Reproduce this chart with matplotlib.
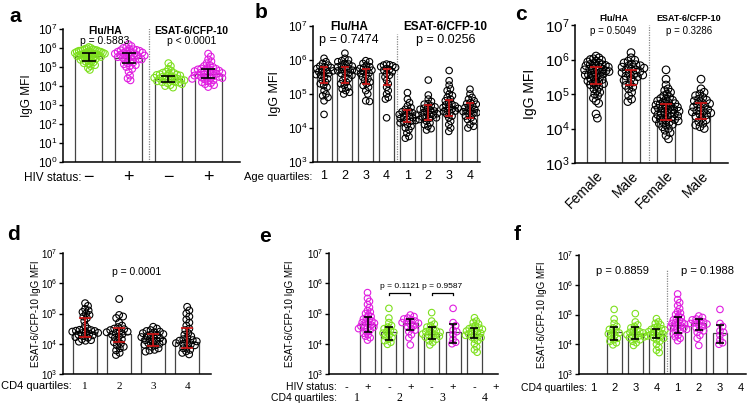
import numpy as np
import matplotlib
matplotlib.use("Agg")
import matplotlib.pyplot as plt
from matplotlib.ticker import NullLocator
from matplotlib.transforms import blended_transform_factory

plt.rcParams['font.family'] = ['Liberation Sans', 'DejaVu Sans']
plt.rcParams['mathtext.fontset'] = 'custom'
plt.rcParams['mathtext.rm'] = 'Liberation Sans'
plt.rcParams['mathtext.it'] = 'Liberation Sans'

W, H = 751, 405
GREEN = '#7ee01e'
MAGENTA = '#e01ee0'
RED = '#d01414'
BAREDGE = '#444444'

# ---------------- data (log10 of MFI) ----------------
# panel a: HIV status
a_labels = ['−', '+', '−', '+']
a_flu_neg = [6.05, 6.0, 5.98, 5.95, 5.93, 5.9, 5.9, 5.88, 5.86, 5.85, 5.83, 5.82, 5.8, 5.8, 5.78, 5.76,
             5.75, 5.74, 5.72, 5.7, 5.7, 5.68, 5.66, 5.65, 5.63, 5.62, 5.6, 5.6, 5.58, 5.56, 5.55, 5.53,
             5.5, 5.48, 5.45, 5.42, 5.4, 5.38, 5.35, 5.3, 5.28, 5.25, 5.2, 5.15, 5.1, 5.05, 4.95, 4.85]
a_flu_pos = [6.2, 6.1, 6.05, 6.0, 5.95, 5.93, 5.9, 5.88, 5.85, 5.83, 5.8, 5.78, 5.76, 5.74, 5.72, 5.7,
             5.68, 5.65, 5.62, 5.6, 5.58, 5.55, 5.52, 5.5, 5.48, 5.45, 5.42, 5.4, 5.35, 5.3, 5.25, 5.2,
             5.15, 5.1, 5.05, 5.0, 4.9, 4.75, 4.55, 4.4, 4.3]
a_esat_neg = [5.2, 5.05, 4.9, 4.8, 4.75, 4.7, 4.68, 4.65, 4.62, 4.6, 4.58, 4.55, 4.52, 4.5, 4.48, 4.45,
              4.43, 4.4, 4.38, 4.36, 4.34, 4.32, 4.3, 4.28, 4.25, 4.22, 4.2, 4.18, 4.15, 4.1, 4.05, 4.0, 3.92]
a_esat_pos = [5.7, 5.55, 5.4, 5.3, 5.2, 5.1, 5.05, 5.0, 4.95, 4.92, 4.9, 4.87, 4.85, 4.82, 4.8, 4.78,
              4.75, 4.72, 4.7, 4.68, 4.65, 4.62, 4.6, 4.58, 4.55, 4.52, 4.5, 4.48, 4.45, 4.42, 4.4, 4.38,
              4.35, 4.3, 4.25, 4.2, 4.15, 4.1, 4.05, 3.95]
a_med = [5.59, 5.49, 4.37, 4.63]
a_lo = [5.3, 5.2, 4.2, 4.4]
a_hi = [5.75, 5.75, 4.54, 4.88]

# panel b: age quartiles
b_labels = ['1', '2', '3', '4', '1', '2', '3', '4']
b_flu_1 = [6.05, 5.95, 5.9, 5.85, 5.82, 5.8, 5.78, 5.75, 5.72, 5.7, 5.68, 5.65, 5.62, 5.6, 5.57, 5.55,
           5.5, 5.45, 5.4, 5.35, 5.3, 5.25, 5.2, 5.1, 5.0, 4.95, 4.9, 4.8, 4.4]
b_flu_2 = [6.2, 6.05, 6.0, 5.98, 5.95, 5.9, 5.88, 5.85, 5.82, 5.8, 5.78, 5.75, 5.72, 5.7, 5.68, 5.65,
           5.62, 5.6, 5.55, 5.5, 5.45, 5.4, 5.35, 5.3, 5.25, 5.2, 5.15, 5.1, 5.05, 5.0]
b_flu_3 = [5.98, 5.95, 5.9, 5.85, 5.8, 5.77, 5.75, 5.72, 5.7, 5.68, 5.65, 5.62, 5.6, 5.55, 5.5, 5.45,
           5.4, 5.35, 5.3, 5.25, 5.2, 5.1, 5.0, 4.8, 4.78]
b_flu_4 = [5.88, 5.86, 5.85, 5.83, 5.8, 5.78, 5.75, 5.72, 5.7, 5.65, 5.6, 5.55, 5.5, 5.4, 5.3, 5.2,
           5.1, 5.0, 4.9, 4.85, 4.3]
b_esat_1 = [5.04, 4.85, 4.75, 4.65, 4.6, 4.55, 4.5, 4.48, 4.45, 4.42, 4.4, 4.38, 4.35, 4.32, 4.3, 4.28,
            4.25, 4.22, 4.2, 4.18, 4.15, 4.1, 4.05, 4.0, 3.95, 3.85, 3.75, 3.7]
b_esat_2 = [5.41, 4.97, 4.85, 4.78, 4.72, 4.7, 4.65, 4.62, 4.6, 4.58, 4.55, 4.52, 4.5, 4.48, 4.45, 4.42,
            4.4, 4.38, 4.35, 4.32, 4.3, 4.28, 4.25, 4.2, 4.15, 4.1, 4.05, 3.98, 3.94]
b_esat_3 = [5.69, 5.39, 5.26, 5.15, 5.1, 5.0, 4.95, 4.9, 4.85, 4.8, 4.75, 4.7, 4.68, 4.65, 4.62, 4.6,
            4.58, 4.55, 4.52, 4.5, 4.48, 4.45, 4.4, 4.35, 4.3, 4.2, 4.1, 4.0, 3.9]
b_esat_4 = [5.14, 5.0, 4.9, 4.85, 4.8, 4.75, 4.72, 4.7, 4.65, 4.62, 4.6, 4.55, 4.52, 4.5, 4.48, 4.45,
            4.42, 4.4, 4.35, 4.3, 4.25, 4.2, 4.1, 4.05, 4.0]
b_med = [5.62, 5.66, 5.62, 5.62, 4.43, 4.51, 4.63, 4.53]
b_lo = [5.31, 5.33, 5.28, 5.26, 4.19, 4.24, 4.35, 4.29]
b_hi = [5.8, 5.8, 5.73, 5.73, 4.53, 4.68, 4.82, 4.73]

# panel c: sex
c_labels = ['Female', 'Male', 'Female', 'Male']
c_flu_f = [6.1, 6.05, 6.02, 6.0, 5.98, 5.95, 5.93, 5.9, 5.88, 5.86, 5.85, 5.83, 5.82, 5.8, 5.78, 5.77,
           5.75, 5.73, 5.72, 5.7, 5.68, 5.67, 5.65, 5.63, 5.62, 5.6, 5.58, 5.56, 5.55, 5.53, 5.5, 5.48,
           5.45, 5.42, 5.4, 5.38, 5.35, 5.32, 5.3, 5.27, 5.25, 5.2, 5.15, 5.1, 5.05, 5.0, 4.95, 4.88,
           4.8, 4.73, 4.42, 4.3]
c_flu_m = [6.2, 6.05, 5.98, 5.95, 5.9, 5.87, 5.85, 5.82, 5.8, 5.78, 5.75, 5.72, 5.7, 5.68, 5.65, 5.62,
           5.6, 5.57, 5.55, 5.52, 5.5, 5.45, 5.4, 5.35, 5.3, 5.25, 5.2, 5.15, 5.05, 4.95, 4.85, 4.78]
c_esat_f = [5.7, 5.43, 5.26, 5.15, 5.1, 5.05, 5.0, 4.95, 4.9, 4.87, 4.85, 4.82, 4.8, 4.77, 4.75, 4.72,
            4.7, 4.68, 4.66, 4.64, 4.62, 4.6, 4.58, 4.56, 4.55, 4.53, 4.5, 4.48, 4.46, 4.45, 4.43, 4.4,
            4.38, 4.36, 4.35, 4.33, 4.3, 4.28, 4.26, 4.25, 4.22, 4.2, 4.18, 4.15, 4.12, 4.1, 4.05, 4.0,
            3.95, 3.88, 3.8, 3.7]
c_esat_m = [5.43, 5.15, 5.05, 5.0, 4.95, 4.9, 4.85, 4.82, 4.8, 4.75, 4.72, 4.7, 4.65, 4.62, 4.6, 4.55,
            4.52, 4.5, 4.48, 4.45, 4.42, 4.4, 4.35, 4.3, 4.25, 4.2, 4.15, 4.1, 4.05, 4.0]
c_med = [5.6, 5.52, 4.63, 4.45]
c_lo = [5.29, 5.26, 4.25, 4.27]
c_hi = [5.77, 5.7, 4.7, 4.73]

# panel d: CD4 quartiles
d_labels = ['1', '2', '3', '4']
d_q1 = [5.34, 5.25, 5.15, 5.1, 5.05, 5.0, 4.95, 4.9, 4.85, 4.75, 4.6, 4.5, 4.48, 4.46, 4.45, 4.43,
        4.42, 4.4, 4.38, 4.36, 4.35, 4.33, 4.3, 4.28, 4.25, 4.22, 4.2, 4.15, 4.12, 4.1, 4.07]
d_q2 = [5.48, 4.95, 4.9, 4.85, 4.7, 4.6, 4.55, 4.5, 4.48, 4.45, 4.42, 4.4, 4.38, 4.35, 4.32, 4.3,
        4.25, 4.2, 4.15, 4.1, 4.05, 4.0, 3.95, 3.9, 3.85, 3.78, 3.7, 3.63]
d_q3 = [4.56, 4.5, 4.45, 4.42, 4.4, 4.38, 4.35, 4.32, 4.3, 4.28, 4.25, 4.22, 4.2, 4.18, 4.15, 4.12,
        4.1, 4.08, 4.05, 4.02, 4.0, 3.97, 3.95, 3.9, 3.85, 3.8, 3.78, 3.74]
d_q4 = [5.22, 5.1, 5.0, 4.9, 4.8, 4.7, 4.6, 4.5, 4.45, 4.35, 4.3, 4.25, 4.2, 4.15, 4.12, 4.1,
        4.08, 4.05, 4.02, 4.0, 3.98, 3.95, 3.9, 3.85, 3.8, 3.75, 3.7, 3.65]
d_med = [4.4, 4.31, 4.18, 4.07]
d_lo = [4.23, 4.07, 3.94, 3.85]
d_hi = [4.86, 4.51, 4.31, 4.51]

# panels e/f: HIV status within CD4 quartiles
pos_q1 = [5.69, 5.5, 5.4, 5.3, 5.2, 5.1, 5.05, 5.0, 4.95, 4.9, 4.85, 4.82, 4.8, 4.75, 4.72, 4.7,
          4.68, 4.65, 4.62, 4.6, 4.58, 4.55, 4.52, 4.5, 4.45, 4.4, 4.35, 4.3, 4.25, 4.2, 4.12]
neg_q2 = [5.17, 4.85, 4.7, 4.6, 4.55, 4.5, 4.45, 4.4, 4.38, 4.35, 4.3, 4.25, 4.2, 4.15, 4.1, 4.05, 3.98]
pos_q2 = [4.95, 4.9, 4.85, 4.82, 4.8, 4.75, 4.72, 4.7, 4.68, 4.65, 4.6, 4.55, 4.5, 4.45, 4.4, 4.3,
          4.2, 3.96]
neg_q3 = [5.03, 4.75, 4.65, 4.6, 4.55, 4.5, 4.45, 4.42, 4.4, 4.38, 4.35, 4.32, 4.3, 4.28, 4.25, 4.22,
          4.2, 4.15, 4.1, 4.05, 3.96]
pos_q3 = [5.17, 4.7, 4.6, 4.45, 4.4, 4.3, 4.15, 4.05, 4.0]
neg_q4 = [4.86, 4.75, 4.7, 4.65, 4.6, 4.55, 4.52, 4.5, 4.48, 4.45, 4.42, 4.4, 4.38, 4.35, 4.32, 4.3,
          4.28, 4.25, 4.22, 4.2, 4.15, 4.1, 4.0, 3.9, 3.8, 3.72]
e_hiv_labels = ['-', '+', '-', '+', '-', '+', '-', '+']
e_cd4_labels = ['1', '2', '3', '4']
e_med = [None, 4.64, 4.4, 4.68, 4.31, 4.38, 4.31, None]
e_lo = [None, 4.4, 4.12, 4.45, 4.16, 4.01, 4.2, None]
e_hi = [None, 4.89, 4.56, 4.82, 4.56, 4.64, 4.51, None]
e_pvals = ['p = 0.1121', 'p = 0.9587']

f_labels = ['1', '2', '3', '4', '1', '2', '3', '4']
f_med = [None, 4.4, 4.33, 4.33, 4.65, 4.7, 4.37, None]
f_lo = [None, 4.14, 4.18, 4.22, 4.39, 4.48, 4.03, None]
f_hi = [None, 4.57, 4.57, 4.5, 4.9, 4.85, 4.65, None]


# ---------------- helpers ----------------
def box(x0, x1, y0, y1):
    return [x0 / W, 1 - y1 / H, (x1 - x0) / W, (y1 - y0) / H]


def setup(ax, xlim, ymin, ymax, fs):
    ax.set_yscale('log')
    ax.set_xlim(*xlim)
    ax.set_ylim(10.0 ** ymin, 10.0 ** ymax)
    ks = list(range(ymin, ymax + 1))
    ax.set_yticks([10.0 ** k for k in ks])
    ax.set_yticklabels([f'$10^{{{k}}}$' for k in ks], fontsize=fs)
    ax.yaxis.set_minor_locator(NullLocator())
    ax.set_xticks([])
    for s in ['top', 'right']:
        ax.spines[s].set_visible(False)
    for s in ['left', 'bottom']:
        ax.spines[s].set_linewidth(1.1)
    ax.tick_params(axis='y', length=3, width=1, pad=1)


def swarm(ax, xc, logs, diam, half):
    # deterministic beeswarm in pixel space, squeezed to the allowed half-width
    vals = 10.0 ** np.asarray(logs)
    pts = ax.transData.transform(np.column_stack([np.full(len(vals), xc), vals]))
    ys = pts[:, 1]
    order = np.argsort(-ys)
    placed = []
    offs = np.zeros(len(vals))
    for i in order:
        y = ys[i]
        near = [(px, py) for px, py in placed if abs(py - y) < diam]
        cands = [0.0]
        for px, py in near:
            dx = np.sqrt(diam ** 2 - (py - y) ** 2)
            cands += [px + dx, px - dx]
        cands.sort(key=abs)
        best = cands[-1]
        for c in cands:
            if all((c - px) ** 2 + (y - py) ** 2 >= diam ** 2 - 1e-6 for px, py in near):
                best = c
                break
        offs[i] = best
        placed.append((best, y))
    wmax = np.abs(offs).max() if len(offs) else 0
    if wmax > half:
        offs = offs * half / wmax
    ppu = ax.transData.transform([(1, 1)])[0][0] - ax.transData.transform([(0, 1)])[0][0]
    return xc + offs / ppu, vals


def draw_groups(ax, groups, colors, med, lo, hi, width, ybot, ecolor, cap, msize, diam, half):
    for i, g in enumerate(groups):
        if g is None:
            continue
        ax.bar(i, 10.0 ** med[i] - 10.0 ** ybot, bottom=10.0 ** ybot, width=width,
               facecolor='white', edgecolor=BAREDGE, linewidth=0.9, zorder=1)
        xs, vals = swarm(ax, i, g, diam, half)
        ax.scatter(xs, vals, s=msize, facecolors='none', edgecolors=colors[i],
                   linewidths=0.8, zorder=2)
        m = 10.0 ** med[i]
        ax.errorbar(i, m, yerr=[[m - 10.0 ** lo[i]], [10.0 ** hi[i] - m]], fmt='none',
                    ecolor=ecolor, elinewidth=1.2, capsize=cap, capthick=1.2, zorder=3)


def cat_text(ax, labels, y, fs, **kw):
    tr = blended_transform_factory(ax.transData, ax.transAxes)
    for i, lab in enumerate(labels):
        ax.text(i, y, lab, transform=tr, ha='center', va='center', fontsize=fs, **kw)


def divider(ax, x, ymin=0, ymax=1):
    ax.axvline(x, ymin=ymin, ymax=ymax, color='#888888', lw=0.9, ls=(0, (1, 1)), zorder=0)


fig = plt.figure(figsize=(W / 100, H / 100), dpi=100)

# ---------------- panel a ----------------
ax = fig.add_axes(box(63, 240, 29, 162))
setup(ax, (-0.65, 3.8), 0, 7, 8.5)
draw_groups(ax, [a_flu_neg, a_flu_pos, a_esat_neg, a_esat_pos],
            [GREEN, MAGENTA, GREEN, MAGENTA], a_med, a_lo, a_hi,
            0.68, 0, 'black', 5, 24, 4.2, 16)
divider(ax, 1.5, 0, 1.05)
ax.set_ylabel('IgG MFI', fontsize=8.5, labelpad=1)
ax.yaxis.set_label_coords(-0.17, 0.5)
tr = blended_transform_factory(ax.transData, ax.transAxes)
ax.text(0.4, 0.985, 'Flu/HA', transform=tr, ha='center', va='center', fontsize=7.5, fontweight='bold')
ax.text(0.4, 0.91, 'p = 0.5883', transform=tr, ha='center', va='center', fontsize=7.5)
ax.text(2.58, 0.985, 'ESAT-6/CFP-10', transform=tr, ha='center', va='center', fontsize=7.5, fontweight='bold')
ax.text(2.58, 0.91, 'p < 0.0001', transform=tr, ha='center', va='center', fontsize=7.5)
cat_text(ax, a_labels, -0.115, 13)
fig.text(82 / W, 1 - 178 / H, 'HIV status:', ha='right', va='center', fontsize=8.5)

# ---------------- panel b ----------------
ax = fig.add_axes(box(313, 480, 26, 162))
setup(ax, (-0.53, 7.48), 3, 7, 8.5)
draw_groups(ax, [b_flu_1, b_flu_2, b_flu_3, b_flu_4, b_esat_1, b_esat_2, b_esat_3, b_esat_4],
            ['black'] * 8, b_med, b_lo, b_hi, 0.72, 3, RED, 3, 22, 4.0, 9)
divider(ax, 3.5, 0, 0.94)
ax.set_ylabel('IgG MFI', fontsize=9)
ax.yaxis.set_label_coords(-0.19, 0.5)
tr = blended_transform_factory(ax.transData, ax.transAxes)
ax.text(1.2, 0.99, 'Flu/HA', transform=tr, ha='center', va='center', fontsize=8.5, fontweight='bold')
ax.text(1.2, 0.9, 'p = 0.7474', transform=tr, ha='center', va='center', fontsize=9)
ax.text(5.8, 0.99, 'ESAT-6/CFP-10', transform=tr, ha='center', va='center', fontsize=8.5, fontweight='bold')
ax.text(5.85, 0.9, 'p = 0.0256', transform=tr, ha='center', va='center', fontsize=9)
cat_text(ax, b_labels, -0.105, 9)
fig.text(312 / W, 1 - 177 / H, 'Age quartiles:', ha='right', va='center', fontsize=8)

# ---------------- panel c ----------------
ax = fig.add_axes(box(575, 728, 25, 163))
setup(ax, (-0.6, 3.77), 3, 7, 11)
draw_groups(ax, [c_flu_f, c_flu_m, c_esat_f, c_esat_m],
            ['black'] * 4, c_med, c_lo, c_hi, 0.52, 3, RED, 4.5, 30, 4.6, 13)
divider(ax, 1.5, 0, 1.0)
ax.set_ylabel('IgG MFI', fontsize=10)
ax.yaxis.set_label_coords(-0.25, 0.5)
tr = blended_transform_factory(ax.transData, ax.transAxes)
ax.text(0.5, 1.05, 'Flu/HA', transform=tr, ha='center', va='center', fontsize=6.5, fontweight='bold')
ax.text(0.5, 0.957, 'p = 0.5049', transform=tr, ha='center', va='center', fontsize=7)
ax.text(2.65, 1.05, 'ESAT-6/CFP-10', transform=tr, ha='center', va='center', fontsize=6.5, fontweight='bold')
ax.text(2.65, 0.957, 'p = 0.3286', transform=tr, ha='center', va='center', fontsize=7)
ax.set_xticks(range(len(c_labels)))
ax.set_xticklabels(c_labels, rotation=45, ha='right', rotation_mode='anchor', fontsize=10)
ax.tick_params(axis='x', length=0, pad=4)

# ---------------- panel d ----------------
ax = fig.add_axes(box(63, 211, 253, 374))
setup(ax, (-0.65, 3.7), 3, 7, 7)
draw_groups(ax, [d_q1, d_q2, d_q3, d_q4], ['black'] * 4, d_med, d_lo, d_hi,
            0.7, 3, RED, 4, 24, 4.2, 13)
ax.set_ylabel('ESAT-6/CFP-10 IgG MFI', fontsize=7)
ax.yaxis.set_label_coords(-0.15, 0.5)
ax.text(1.5, 0.84, 'p = 0.0001', transform=blended_transform_factory(ax.transData, ax.transAxes),
        ha='center', va='center', fontsize=7.5)
cat_text(ax, d_labels, -0.1, 8, family='Liberation Serif')
fig.text(72 / W, 1 - 386 / H, 'CD4 quartiles:', ha='right', va='center', fontsize=8)

# ---------------- panel e ----------------
e_groups = [None, pos_q1, neg_q2, pos_q2, neg_q3, pos_q3, neg_q4, None]
e_colors = [GREEN if s == '-' else MAGENTA for s in e_hiv_labels]
ax = fig.add_axes(box(329, 498, 253, 374))
setup(ax, (-0.8, 7.1), 3, 7, 7)
draw_groups(ax, e_groups, e_colors, e_med, e_lo, e_hi, 0.7, 3, 'black', 3, 22, 4.0, 9)
ax.set_ylabel('ESAT-6/CFP-10 IgG MFI', fontsize=7)
ax.yaxis.set_label_coords(-0.2, 0.5)
for k, (x0, x1) in enumerate([(2, 3), (4, 5)]):
    yb = 10 ** 5.69
    ax.plot([x0, x0, x1, x1], [yb * 0.85, yb, yb, yb * 0.85], color='black', lw=0.9)
    ax.text((x0 + x1) / 2, 10 ** 5.88, e_pvals[k], ha='center', va='center', fontsize=6)
cat_text(ax, e_hiv_labels, -0.105, 8)
tr = blended_transform_factory(ax.transData, ax.transAxes)
for k, lab in enumerate(e_cd4_labels):
    ax.text(2 * k + 0.5, -0.2, lab, transform=tr, ha='center', va='center', fontsize=8.5,
            family='Liberation Serif')
fig.text(337 / W, 1 - 387 / H, 'HIV status:', ha='right', va='center', fontsize=7.5)
fig.text(337 / W, 1 - 398 / H, 'CD4 quartiles:', ha='right', va='center', fontsize=7.5)

# ---------------- panel f ----------------
f_groups = [None, neg_q2, neg_q3, neg_q4, pos_q1, pos_q2, pos_q3, None]
f_colors = [GREEN] * 4 + [MAGENTA] * 4
ax = fig.add_axes(box(579, 746, 255, 374))
setup(ax, (-0.66, 7.23), 3, 7, 7)
draw_groups(ax, f_groups, f_colors, f_med, f_lo, f_hi, 0.7, 3, 'black', 3, 22, 4.0, 9)
divider(ax, 3.5, 0, 0.87)
ax.set_ylabel('ESAT-6/CFP-10 IgG MFI', fontsize=7)
ax.yaxis.set_label_coords(-0.19, 0.5)
tr = blended_transform_factory(ax.transData, ax.transAxes)
ax.text(1.4, 0.866, 'p = 0.8859', transform=tr, ha='center', va='center', fontsize=8)
ax.text(5.4, 0.866, 'p = 0.1988', transform=tr, ha='center', va='center', fontsize=8)
cat_text(ax, f_labels, -0.115, 8)
fig.text(587 / W, 1 - 388 / H, 'CD4 quartiles:', ha='right', va='center', fontsize=7.5)

# panel letters
for lab, (px, py) in zip('abcdef', [(15, 17), (261, 12), (521, 14), (14, 235), (265, 237), (517, 235)]):
    fig.text(px / W, 1 - py / H, lab, ha='center', va='center', fontsize=15, fontweight='bold')

fig.savefig('out.png', dpi=100)
